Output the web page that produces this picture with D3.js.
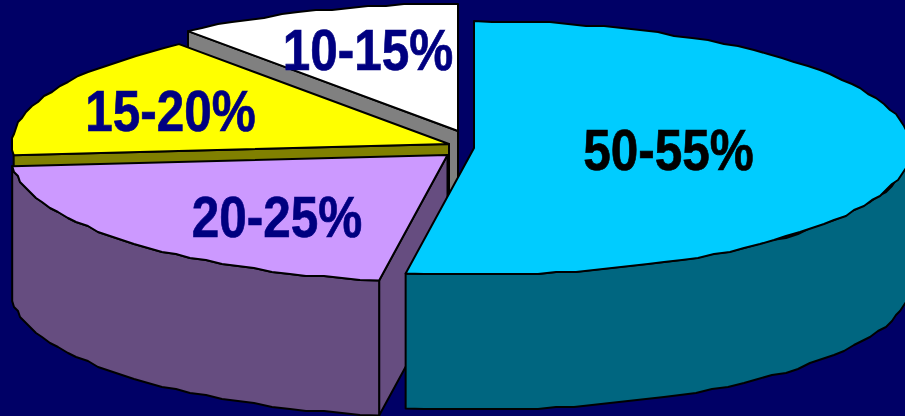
<!DOCTYPE html>
<html>
<head>
<meta charset="utf-8">
<script src="https://cdn.jsdelivr.net/npm/d3@7/dist/d3.min.js"></script>
<style>
html,body{margin:0;padding:0;background:#000066;overflow:hidden}
svg{display:block}
text{font-family:"Liberation Sans",Arial,sans-serif;font-weight:700}
</style>
</head>
<body>
<svg id="c" width="905" height="416"></svg>
<script>
// Data, in pie order (clockwise from 12 o'clock)
const categories = ["50-55%", "20-25%", "15-20%", "10-15%"];
const values = [52.5, 21.1, 15.8, 10.6];

// Styles
const topColors = ["#00CCFF", "#CC99FF", "#FFFF00", "#FFFFFF"];
const wallColors = ["#006680", "#664D80", "#808000", "#808080"];
const labelColors = ["#000000", "#000080", "#000080", "#000080"];

// Layout: exploded slice apexes and label anchors
const apexX = [474, 447.5, 449, 458];
const apexY = [148, 155, 144, 131];
const labelX = [668.5, 277, 170.5, 368];
const labelY = [170, 237, 131, 70];

const RX = 437, RY = 127, DEPTH = 135, GRID = 2, FONT = 57, SQUEEZE = 0.868;

const svg = d3.select("#c");
const slices = d3.pie().sort(null).value(d => d)(values);
const lineGen = d3.line().curve(d3.curveLinear);

const rim = (i, a) => [apexX[i] + RX * Math.sin(a), apexY[i] - RY * Math.cos(a)];
const snap = p => [Math.round(p[0] / GRID) * GRID, Math.round(p[1] / GRID) * GRID];

function arcPoints(i, a0, a1) {
  const pts = [rim(i, a0)];
  const n = Math.max(2, Math.ceil(Math.abs(a1 - a0) / (Math.PI / 72)));
  d3.range(1, n).forEach(k => pts.push(snap(rim(i, a0 + (a1 - a0) * k / n))));
  pts.push(rim(i, a1));
  return pts;
}
const down = p => [p[0], p[1] + DEPTH];

function poly(points, fill) {
  svg.append("path")
    .attr("d", lineGen(points) + "Z")
    .attr("fill", fill)
    .attr("stroke", "#000")
    .attr("stroke-width", 2)
    .attr("stroke-linejoin", "round");
}

// Draw back slices first, front and right slices last
[3, 2, 1, 0].forEach(i => {
  const s = slices[i];
  const apex = [apexX[i], apexY[i]];
  const a0 = s.startAngle, a1 = s.endAngle;

  if (i === 3 || i === 2) {
    // the cut face that shows below this slice's top
    const e = rim(i, a0);
    poly([e, apex, down(apex), down(e)], wallColors[i]);
  }
  if (i === 1) {
    // the cut face on the right, then the outer wall
    const e = rim(i, a0);
    poly([apex, e, down(e), down(apex)], wallColors[i]);
    const outer = arcPoints(i, a0, a1);
    poly(outer.concat(outer.slice().reverse().map(down)), wallColors[i]);
  }
  if (i === 0) {
    const outer = arcPoints(i, Math.PI / 2, a1);
    poly(outer.concat(outer.slice().reverse().map(down)), wallColors[i]);
  }
  poly([apex].concat(arcPoints(i, a0, a1)), topColors[i]);
});

categories.forEach((c, i) => {
  svg.append("text")
    .attr("transform", `translate(${labelX[i]},${labelY[i]}) scale(${SQUEEZE},1)`)
    .attr("text-anchor", "middle")
    .attr("font-size", FONT)
    .attr("fill", labelColors[i])
    .attr("stroke", labelColors[i])
    .attr("stroke-width", 0.7)
    .text(c);
});
</script>
</body>
</html>
